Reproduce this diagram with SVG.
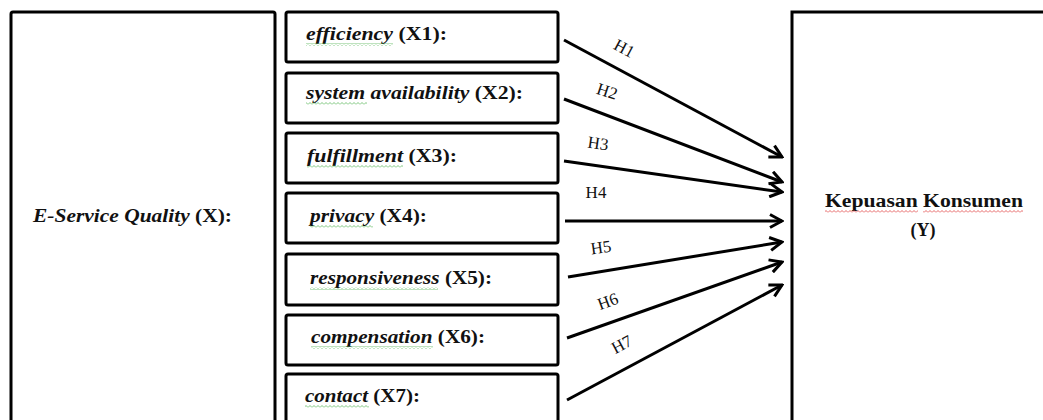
<svg xmlns="http://www.w3.org/2000/svg" width="1043" height="420" viewBox="0 0 1043 420">
<style>
.box{fill:#fff;stroke:#000;stroke-width:3}
.t{font-family:"Liberation Serif","Times New Roman",serif;font-size:18px;font-weight:bold;fill:#111}
.i{font-style:italic}
.h{font-family:"Liberation Serif","Times New Roman",serif;font-size:17px;fill:#111}
.arr{stroke:#000;stroke-width:3;fill:none;marker-end:url(#ah)}
</style>
<defs>
<marker id="ah" viewBox="0 0 16 16" refX="14" refY="8" markerWidth="16" markerHeight="16" markerUnits="userSpaceOnUse" orient="auto">
<path d="M2,1.5 L14,8 L2,14.5" fill="none" stroke="#000" stroke-width="3" stroke-linejoin="miter"/>
</marker>
<pattern id="wg" width="4" height="3" patternUnits="userSpaceOnUse">
<path d="M0,2.5 L2,0.5 L4,2.5" fill="none" stroke="#5cb85c" stroke-width="0.8"/>
</pattern>
<pattern id="wr" width="4" height="3" patternUnits="userSpaceOnUse">
<path d="M0,2.5 L2,0.5 L4,2.5" fill="none" stroke="#e04040" stroke-width="0.8"/>
</pattern>
</defs>
<rect width="1043" height="420" fill="#fff"/>

<g id="node-x">
<rect class="box" x="11" y="12" width="264" height="430" rx="2"/>
<text class="t" x="33" y="222" textLength="199" lengthAdjust="spacingAndGlyphs"><tspan class="i">E-Service Quality</tspan> (X):</text>
</g>

<g id="node-x1">
<rect class="box" x="286" y="12" width="272" height="50" rx="2"/>
<text class="t" x="306" y="40" textLength="141" lengthAdjust="spacingAndGlyphs"><tspan class="i">efficiency</tspan>  (X1):</text>
<rect x="306" y="43" width="87" height="3" fill="url(#wg)"/>
</g>
<g id="node-x2">
<rect class="box" x="286" y="73" width="272" height="50" rx="2"/>
<text class="t" x="306" y="99" textLength="217" lengthAdjust="spacingAndGlyphs"><tspan class="i">system  availability</tspan> (X2):</text>
<rect x="306" y="102" width="61" height="3" fill="url(#wg)"/>
</g>
<g id="node-x3">
<rect class="box" x="286" y="133" width="272" height="50" rx="2"/>
<text class="t" x="307" y="162" textLength="150" lengthAdjust="spacingAndGlyphs"><tspan class="i">fulfillment</tspan> (X3):</text>
<rect x="307" y="165" width="96" height="3" fill="url(#wg)"/>
</g>
<g id="node-x4">
<rect class="box" x="286" y="193" width="272" height="50" rx="2"/>
<text class="t" x="310" y="222" textLength="117" lengthAdjust="spacingAndGlyphs"><tspan class="i">privacy</tspan> (X4):</text>
<rect x="310" y="225" width="63" height="3" fill="url(#wg)"/>
</g>
<g id="node-x5">
<rect class="box" x="286" y="254" width="272" height="51" rx="2"/>
<text class="t" x="310" y="284" textLength="182" lengthAdjust="spacingAndGlyphs"><tspan class="i">responsiveness</tspan>  (X5):</text>
<rect x="310" y="287" width="128" height="3" fill="url(#wg)"/>
</g>
<g id="node-x6">
<rect class="box" x="286" y="315" width="272" height="50" rx="2"/>
<text class="t" x="311" y="343" textLength="174" lengthAdjust="spacingAndGlyphs"><tspan class="i">compensation</tspan> (X6):</text>
<rect x="311" y="346" width="122" height="3" fill="url(#wg)"/>
</g>
<g id="node-x7">
<rect class="box" x="286" y="374" width="272" height="70" rx="2"/>
<text class="t" x="305" y="402" textLength="115" lengthAdjust="spacingAndGlyphs"><tspan class="i">contact</tspan> (X7):</text>
<rect x="305" y="405" width="64" height="3" fill="url(#wg)"/>
</g>

<g id="node-y">
<path d="M792,440 L792,12 L1060,12" fill="none" stroke="#000" stroke-width="3"/>
<text class="t" x="825" y="207" textLength="198" lengthAdjust="spacingAndGlyphs">Kepuasan Konsumen</text>
<text class="t" x="923" y="236" text-anchor="middle">(Y)</text>
<rect x="825" y="210" width="93" height="3" fill="url(#wr)"/>
<rect x="923" y="210" width="100" height="3" fill="url(#wr)"/>
</g>

<g id="connectors">
<line class="arr" x1="564" y1="40" x2="782" y2="157"/>
<line class="arr" x1="564" y1="99" x2="782" y2="182"/>
<line class="arr" x1="564" y1="161" x2="782" y2="192"/>
<line class="arr" x1="565" y1="221" x2="782" y2="221"/>
<line class="arr" x1="568" y1="277" x2="782" y2="242"/>
<line class="arr" x1="567" y1="338" x2="782" y2="262"/>
<line class="arr" x1="567" y1="400" x2="782" y2="285"/>
<text class="h" transform="translate(624,49) rotate(28)" text-anchor="middle" dy="5">H1</text>
<text class="h" transform="translate(607,92) rotate(18)" text-anchor="middle" dy="5">H2</text>
<text class="h" transform="translate(598,144) rotate(8)" text-anchor="middle" dy="5">H3</text>
<text class="h" transform="translate(596,193)" text-anchor="middle" dy="5">H4</text>
<text class="h" transform="translate(601,248) rotate(-8)" text-anchor="middle" dy="5">H5</text>
<text class="h" transform="translate(608,302) rotate(-20)" text-anchor="middle" dy="5">H6</text>
<text class="h" transform="translate(622,345) rotate(-28)" text-anchor="middle" dy="5">H7</text>
</g>
</svg>
